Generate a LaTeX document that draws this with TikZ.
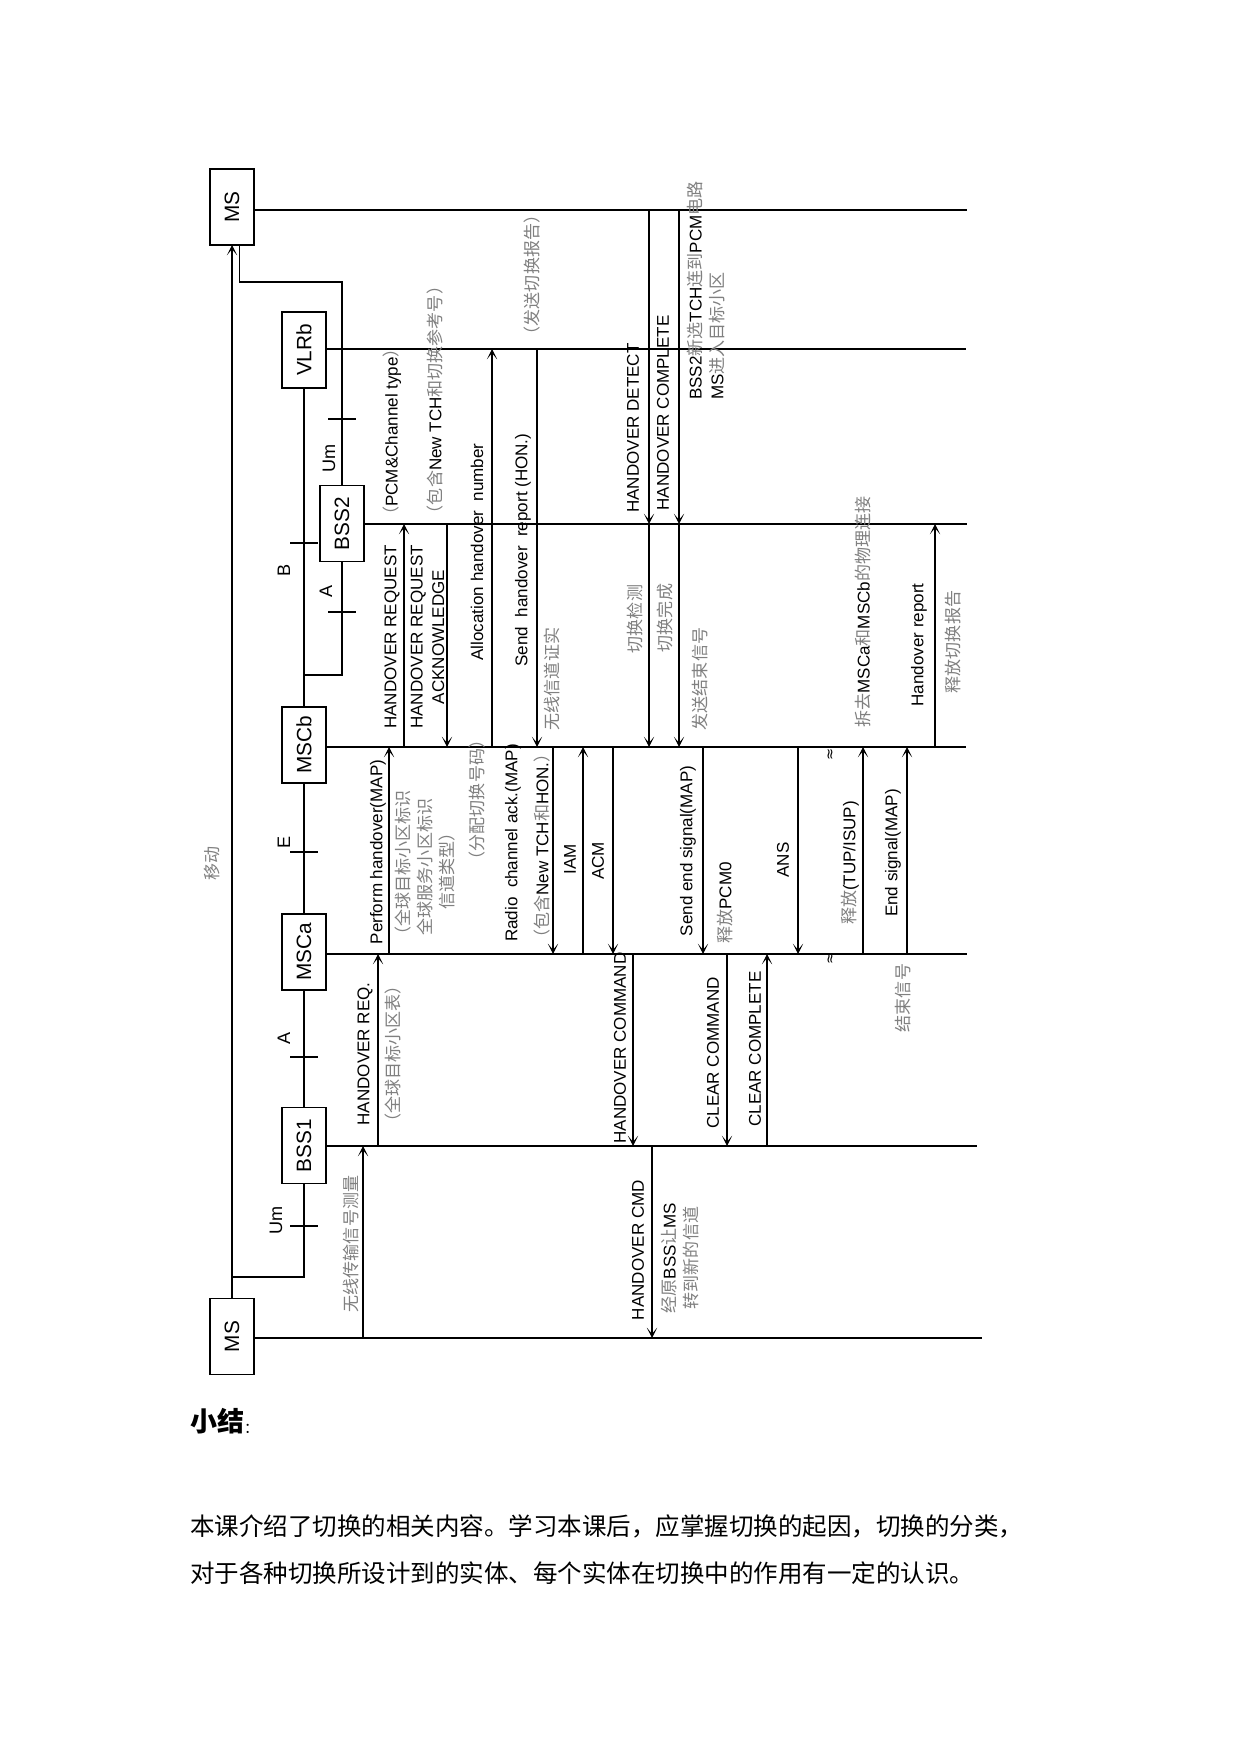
\documentclass[tikz,border=0pt]{standalone}
\usepackage{fontspec}
\setmainfont{Liberation Sans}
\newfontfamily\cjk{Noto Sans CJK SC}
\newfontfamily\djv{DejaVu Sans}
\usetikzlibrary{arrows.meta}
\newcommand\zh[1]{{\cjk\color{black!50}#1}}
\newcommand\msg[3]{\draw[msg] (#1,0 |- #2) -- (#1,0 |- #3);}
\begin{document}
\begin{tikzpicture}[x=0.48147pt,y=-0.48147pt,
  every node/.style={inner sep=0pt, outer sep=0pt},
  lbl/.style={rotate=90, font=\fontsize{8.2}{10.4}\selectfont},
  tick/.style={rotate=90, font=\fontsize{8.7}{10}\selectfont},
  box/.style={draw, line width=0.7pt, minimum width=21.2pt, minimum height=36.6pt, font=\fontsize{10}{12}\selectfont},
  ln/.style={line width=0.7pt},
  msg/.style={line width=0.7pt, -{Stealth[length=5pt,width=5pt,inset=3pt]}},
  sq/.style={rotate=90, font=\djv\fontsize{7}{8}\selectfont},
]
\useasboundingbox (0,0) rectangle (1241,1754);
\fill[white] (0,0) rectangle (1241,1754);

% boxes
\node[box] (MSt) at (232,207) {\rotatebox{90}{MS}};
\node[box] (VLRb) at (304,350) {\rotatebox{90}{VLRb}};
\node[box] (BSS2) at (342,523.5) {\rotatebox{90}{BSS2}};
\node[box] (MSCb) at (304,745) {\rotatebox{90}{MSCb}};
\node[box] (MSCa) at (304,952) {\rotatebox{90}{MSCa}};
\node[box] (BSS1) at (304,1145.5) {\rotatebox{90}{BSS1}};
\node[box] (MSb) at (232,1336.5) {\rotatebox{90}{MS}};

% lifelines
\coordinate (eMSt) at (967,210);
\coordinate (eVLRb) at (966,349);
\coordinate (eBSS2) at (967,524);
\coordinate (eMSCb) at (966,747);
\coordinate (eMSCa) at (967,954);
\coordinate (eBSS1) at (977,1146);
\coordinate (eMSb) at (982,1338);
\draw[ln] (MSt.east |- eMSt) -- (eMSt);
\draw[ln] (VLRb.east |- eVLRb) -- (eVLRb);
\draw[ln] (BSS2.east |- eBSS2) -- (eBSS2);
\draw[ln] (MSCb.east |- eMSCb) -- (eMSCb);
\draw[ln] (MSCa.east |- eMSCa) -- (eMSCa);
\draw[ln] (BSS1.east |- eBSS1) -- (eBSS1);
\draw[ln] (MSb.east |- eMSb) -- (eMSb);

% network connections
\draw[msg] (MSb.north) -- (MSt.south);
\draw[ln] (MSt.south -| 239.5,0) |- (BSS2.north |- 0,282) -- (BSS2.north);
\draw[ln] (VLRb.south) -- (MSCb.north);
\coordinate (jB) at (304,675);
\draw[ln] (BSS2.south) |- (jB);
\draw[ln] (MSCb.south) -- (MSCa.north);
\draw[ln] (MSCa.south) -- (BSS1.north);
\coordinate (jU) at (232,1277);
\draw[ln] (BSS1.south) |- (jU);

% ticks
\draw[ln] (328,419) -- (356,419);
\draw[ln] (290,543) -- (318,543);
\draw[ln] (328,612) -- (356,612);
\draw[ln] (290,852) -- (318,852);
\draw[ln] (290,1057) -- (318,1057);
\draw[ln] (290,1226) -- (318,1226);
\node[tick] (tUm1) at (329,458) {Um};
\node[tick] (tB) at (284,570) {B};
\node[tick] (tA1) at (326,591) {A};
\node[tick] (tE) at (284,842) {E};
\node[tick] (tA2) at (284,1038) {A};
\node[tick] (tUm2) at (276,1220) {Um};
\node[lbl] (move) at (212,863) {\zh{移动}};

% messages
\msg{363}{eMSb}{eBSS1}
\msg{378}{eBSS1}{eMSCa}
\msg{389}{eMSCa}{eMSCb}
\msg{404}{eMSCb}{eBSS2}
\msg{447}{eBSS2}{eMSCb}
\msg{492}{eMSCb}{eVLRb}
\msg{537}{eVLRb}{eMSCb}
\msg{553}{eMSCb}{eMSCa}
\msg{583}{eMSCa}{eMSCb}
\msg{613}{eMSCb}{eMSCa}
\msg{633}{eMSCa}{eBSS1}
\msg{652}{eBSS1}{eMSb}
\msg{649}{eMSt}{eBSS2}
\msg{649}{eBSS2}{eMSCb}
\msg{679}{eMSt}{eBSS2}
\msg{679}{eBSS2}{eMSCb}
\msg{703}{eMSCb}{eMSCa}
\msg{727}{eMSCa}{eBSS1}
\msg{767}{eBSS1}{eMSCa}
\msg{798}{eMSCb}{eMSCa}
\msg{863}{eMSCa}{eMSCb}
\msg{907}{eMSCa}{eMSCb}
\msg{935}{eMSCb}{eBSS2}

% squiggles
\node[sq] (sq1) at (831,754) {≈};
\node[sq] (sq2) at (831,958) {≈};

% labels
\node[lbl] (l1) at (351,1244) {\zh{无线传输信号测量}};
\node[lbl] (l2) at (365,1054) {HANDOVER REQ.};
\node[lbl] (l2b) at (393,1054) {\zh{（全球目标小区表）}};
\node[lbl] (l3) at (378,852) {Perform handover(MAP)};
\node[lbl, align=center] (l3b) at (425,867) {\zh{（全球目标小区标识}\\\zh{全球服务小区标识}\\\zh{信道类型）}};
\node[lbl] (l4) at (392,637) {HANDOVER REQUEST};
\node[lbl] (l4b) at (392,432) {\zh{（}PCM\&Channel type\zh{）}};
\node[lbl, align=center] (l5) at (427.5,637) {HANDOVER REQUEST\\ACKNOWLEDGE};
\node[lbl] (l5b) at (435,400) {\zh{（包含}New TCH\zh{和切换参考号）}};
\node[lbl] (l6) at (477,552) {Allocation handover\ \ number};
\node[lbl] (l6b) at (477,800) {\zh{（分配切换号码）}};
\node[lbl] (l7) at (523,550) {Send\ \ handover\ \ report (HON.)};
\node[lbl] (l7b) at (532,275) {\zh{（发送切换报告）}};
\node[lbl] (l8) at (513,843) {Radio\ \ channel ack.(MAP)};
\node[lbl] (l8b) at (542,846) {\zh{（包含}New TCH\zh{和}HON.\zh{）}};
\node[lbl] (l8c) at (552,679) {\zh{无线信道证实}};
\node[lbl] (l9) at (570,859) {IAM};
\node[lbl] (l10) at (598,861) {ACM};
\node[lbl] (l11) at (620,1048) {HANDOVER COMMAND};
\node[lbl] (l12) at (638,1250) {HANDOVER CMD};
\node[lbl, align=center] (l12b) at (680,1258) {\zh{经原}BSS\zh{让}MS\\\zh{转到新的信道}};
\node[lbl] (l13) at (633,428) {HANDOVER DETECT};
\node[lbl] (l13b) at (635,619) {\zh{切换检测}};
\node[lbl] (l14) at (663,413) {HANDOVER COMPLETE};
\node[lbl] (l14b) at (665,618) {\zh{切换完成}};
\node[lbl, align=left, anchor=west] (l15) at (706,400) {BSS2\zh{新选}TCH\zh{连到}PCM\zh{电路}\\MS\zh{进入目标小区}};
\node[lbl] (l16) at (688,851) {Send end signal(MAP)};
\node[lbl] (l16b) at (725,903) {\zh{释放}PCM0};
\node[lbl] (l16c) at (700,679) {\zh{发送结束信号}};
\node[lbl] (l17) at (713,1053) {CLEAR COMMAND};
\node[lbl] (l18) at (755,1049) {CLEAR COMPLETE};
\node[lbl] (l19) at (783,860) {ANS};
\node[lbl] (l20) at (850,863) {\zh{释放}(TUP/ISUP)};
\node[lbl] (l21) at (863,612) {\zh{拆去}MSCa\zh{和}MSCb\zh{的物理连接}};
\node[lbl] (l22) at (893,853) {End signal(MAP)};
\node[lbl] (l22b) at (903,998) {\zh{结束信号}};
\node[lbl] (l23) at (919,645) {Handover report};
\node[lbl] (l23b) at (953,642) {\zh{释放切换报告}};

% summary text
\node[anchor=west, font=\cjk\bfseries\fontsize{13}{15}\selectfont] (sum) at (190,1421) {小结};
\node[anchor=south west, font=\cjk\fontsize{7}{8}\selectfont] (colon) at (sum.south east) {：};
\node[anchor=west, font=\cjk\fontsize{11.8}{14}\selectfont] (p1) at (190,1526) {本课介绍了切换的相关内容。学习本课后，应掌握切换的起因，切换的分类，};
\node[anchor=west, font=\cjk\fontsize{11.8}{14}\selectfont] (p2) at (190,1573) {对于各种切换所设计到的实体、每个实体在切换中的作用有一定的认识。};
\end{tikzpicture}
\end{document}
